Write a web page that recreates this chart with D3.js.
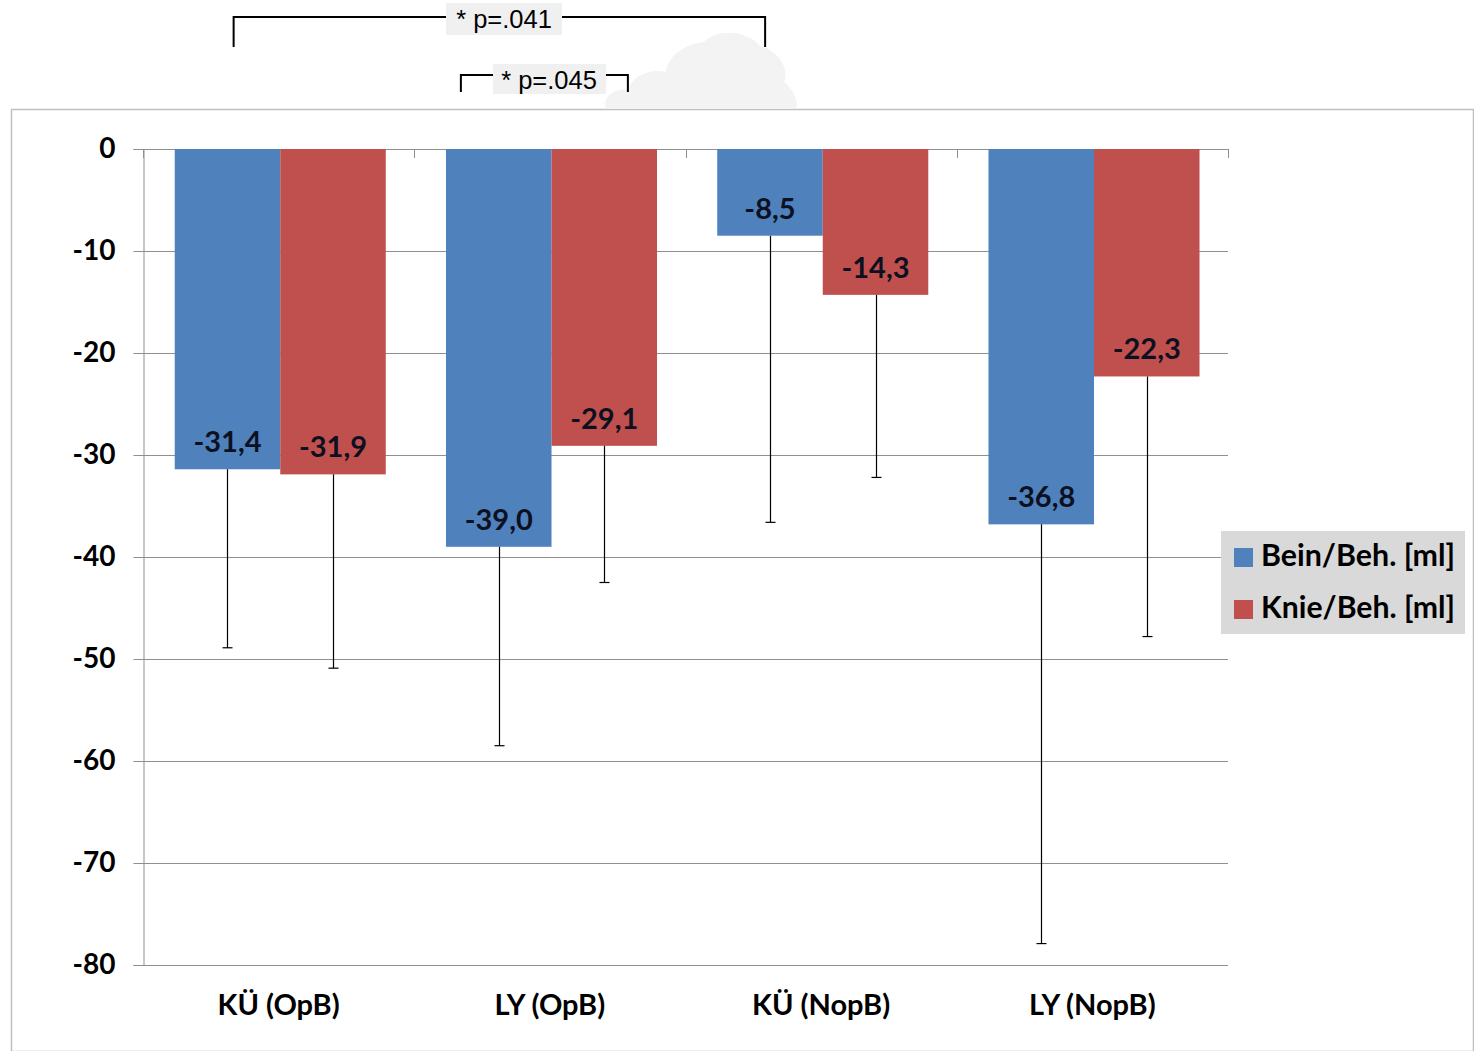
<!DOCTYPE html>
<html>
<head>
<meta charset="utf-8">
<script src="https://cdn.jsdelivr.net/npm/d3@7"></script>
<style>
  html, body { margin: 0; padding: 0; background: #fff; }
  svg { display: block; }
</style>
</head>
<body>
<svg id="chart" width="1474" height="1051"></svg>
<script>
// Volume change per treatment group (ml), two measurement series
const categories = ["KÜ (OpB)", "LY (OpB)", "KÜ (NopB)", "LY (NopB)"];
const seriesNames = ["Bein/Beh. [ml]", "Knie/Beh. [ml]"];
const beinValues = [-31.4, -39.0, -8.5, -36.8];
const knieValues = [-31.9, -29.1, -14.3, -22.3];
const beinSD = [17.5, 19.5, 28.1, 41.1];
const knieSD = [19.0, 13.4, 17.9, 25.5];
const yTicks = [0, -10, -20, -30, -40, -50, -60, -70, -80];
const seriesColors = ["#4f81bd", "#c0504d"];
const significance = [
  { from: 0, to: 2, label: "* p=.041", level: 0 },
  { from: 1, to: 1.3, label: "* p=.045", level: 1 }
];

const svg = d3.select("#chart");
const W = 1474, H = 1051;
const plot = { left: 143, right: 1228, top: 149, bottom: 965 };
const labelFont = "Lato, 'Open Sans', sans-serif";

// outer chart frame
svg.append("rect")
  .attr("x", 11.5).attr("y", 109.5)
  .attr("width", W - 12).attr("height", H - 109)
  .attr("fill", "#fff").attr("stroke", "#bfbfbf").attr("stroke-width", 1.5);

// faint smudge above the frame
svg.append("path")
  .attr("d", "M606,109 C602,96 614,88 628,90 C632,76 650,68 666,72 C668,56 684,44 704,42 C716,28 748,30 760,46 C776,50 790,66 784,82 C796,92 798,104 796,109 Z")
  .attr("fill", "#f3f3f3");

const x0 = d3.scaleBand().domain(categories).range([plot.left, plot.right]).padding(0);
const x1 = d3.scaleBand().domain(seriesNames)
  .range([x0.bandwidth() * 0.117, x0.bandwidth() * 0.895]).padding(0);
const y = d3.scaleLinear().domain([-80, 0]).range([plot.bottom, plot.top]);

// horizontal gridlines
svg.append("g").selectAll("line").data(yTicks).join("line")
  .attr("x1", plot.left).attr("x2", plot.right)
  .attr("y1", d => Math.round(y(d)) + 0.5).attr("y2", d => Math.round(y(d)) + 0.5)
  .attr("stroke", "#8f8f8f").attr("stroke-width", 1);

// y axis
const yAxis = d3.axisLeft(y).tickValues(yTicks).tickSize(10).tickPadding(18)
  .tickFormat(d => d === 0 ? "0" : d3.format("d")(d).replace("−", "-"));
const gy = svg.append("g").attr("transform", `translate(${plot.left + 0.5},0)`).call(yAxis);
gy.select(".domain").attr("stroke", "#8f8f8f");
gy.selectAll(".tick line").attr("stroke", "#8f8f8f");
gy.selectAll(".tick text")
  .attr("font-family", labelFont).attr("font-weight", 700)
  .attr("font-size", 28).attr("fill", "#000");

// category boundary ticks along the zero line
const boundaries = categories.map(c => x0(c)).concat([plot.right]);
svg.append("g").selectAll("line").data(boundaries).join("line")
  .attr("x1", d => Math.round(d) + 0.5).attr("x2", d => Math.round(d) + 0.5)
  .attr("y1", plot.top).attr("y2", plot.top + 9)
  .attr("stroke", "#8f8f8f");

// category labels
svg.append("g").selectAll("text").data(categories).join("text")
  .attr("x", d => x0(d) + x0.bandwidth() / 2)
  .attr("y", 1015)
  .attr("text-anchor", "middle")
  .attr("font-family", labelFont).attr("font-weight", 700)
  .attr("font-size", 29).attr("fill", "#000")
  .text(d => d);

const rows = categories.map((c, i) => [
  { cat: c, series: seriesNames[0], value: beinValues[i], sd: beinSD[i], color: seriesColors[0] },
  { cat: c, series: seriesNames[1], value: knieValues[i], sd: knieSD[i], color: seriesColors[1] }
]).flat();

// bars
svg.append("g").selectAll("rect").data(rows).join("rect")
  .attr("x", d => x0(d.cat) + x1(d.series))
  .attr("y", y(0))
  .attr("width", x1.bandwidth())
  .attr("height", d => y(d.value) - y(0))
  .attr("fill", d => d.color);

// lower error whiskers
const eb = svg.append("g").attr("stroke", "#000").attr("stroke-width", 1.2);
rows.forEach(d => {
  const cx = Math.round(x0(d.cat) + x1(d.series) + x1.bandwidth() / 2) + 0.5;
  eb.append("line").attr("x1", cx).attr("x2", cx)
    .attr("y1", y(d.value)).attr("y2", y(d.value - d.sd));
  eb.append("line").attr("x1", cx - 5).attr("x2", cx + 5)
    .attr("y1", y(d.value - d.sd)).attr("y2", y(d.value - d.sd));
});

// value labels inside the bar ends
svg.append("g").selectAll("text").data(rows).join("text")
  .attr("x", d => x0(d.cat) + x1(d.series) + x1.bandwidth() / 2)
  .attr("y", d => y(d.value) - 17)
  .attr("text-anchor", "middle")
  .attr("font-family", labelFont).attr("font-weight", 700)
  .attr("font-size", 29).attr("fill", "#0d1020")
  .text(d => d3.format(".1f")(d.value).replace("−", "-").replace(".", ","));

// legend
const lg = svg.append("g").attr("transform", "translate(1221,531)");
lg.append("rect").attr("width", 244).attr("height", 103).attr("fill", "#d9d9d9");
seriesNames.forEach((s, i) => {
  lg.append("rect").attr("x", 13).attr("y", 17 + i * 52).attr("width", 19).attr("height", 19)
    .attr("fill", seriesColors[i]);
  lg.append("text").attr("x", 40).attr("y", 35 + i * 52)
    .attr("font-family", labelFont).attr("font-weight", 700)
    .attr("font-size", 30).attr("fill", "#000")
    .attr("textLength", 194).attr("lengthAdjust", "spacingAndGlyphs")
    .text(s);
});

// significance brackets above the chart
const annFont = "'Liberation Sans', Arial, sans-serif";
const catCenter = i => x0(categories[0]) + x0.bandwidth() * i + x0.bandwidth() / 2;
const brackets = [
  { x1: catCenter(0) - 45, x2: catCenter(2) - 56, yTop: 17, yBot: 47, box: [446, 3, 116, 32], tx: 504, ty: 28 },
  { x1: catCenter(1) - 89, x2: catCenter(1) + 78, yTop: 75, yBot: 92, box: [493, 64, 113, 30], tx: 549, ty: 89 }
];
brackets.forEach((b, i) => {
  const g = svg.append("g");
  g.append("path")
    .attr("d", `M${b.x1},${b.yBot} V${b.yTop} H${b.x2} V${b.yBot}`)
    .attr("fill", "none").attr("stroke", "#000").attr("stroke-width", 2);
  g.append("rect").attr("x", b.box[0]).attr("y", b.box[1])
    .attr("width", b.box[2]).attr("height", b.box[3]).attr("fill", "#f0f0f0");
  g.append("text").attr("x", b.tx).attr("y", b.ty)
    .attr("text-anchor", "middle")
    .attr("font-family", annFont).attr("font-size", 25.5).attr("fill", "#000")
    .text(significance[i].label);
});
</script>
</body>
</html>
